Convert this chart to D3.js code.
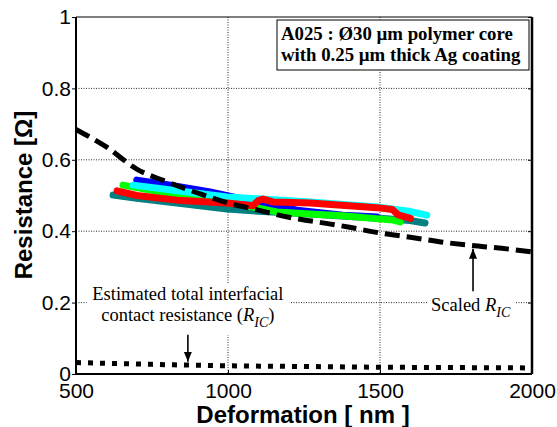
<!DOCTYPE html>
<html>
<head>
<meta charset="utf-8">
<script src="https://cdn.jsdelivr.net/npm/d3@7"></script>
<style>
  body { margin: 0; background: #fff; }
  svg { display: block; }
</style>
</head>
<body>
<div id="chart"></div>
<script>
// measured curves, deformation [nm] vs resistance [ohm]
var tealX  = [622, 700, 832, 997, 1100, 1270, 1400, 1500, 1599, 1648];
var tealY  = [0.501, 0.492, 0.479, 0.462, 0.456, 0.448, 0.441, 0.436, 0.430, 0.423];
var blueX  = [700, 800, 941, 1050, 1227, 1378, 1490];
var blueY  = [0.543, 0.530, 0.510, 0.490, 0.459, 0.445, 0.440];
var greenX = [655, 700, 832, 997, 1161, 1270, 1378, 1543, 1566];
var greenY = [0.529, 0.522, 0.501, 0.482, 0.454, 0.448, 0.443, 0.431, 0.426];
var cyanX  = [688, 800, 997, 1150, 1270, 1490, 1600, 1654];
var cyanY  = [0.529, 0.517, 0.496, 0.488, 0.482, 0.468, 0.455, 0.445];
var redX   = [635, 700, 832, 997, 1082, 1100, 1115, 1148, 1270, 1490, 1540, 1560, 1600];
var redY   = [0.513, 0.500, 0.487, 0.479, 0.471, 0.486, 0.490, 0.482, 0.479, 0.466, 0.461, 0.446, 0.436];

// scaled R_IC (dashed) and estimated R_IC (dotted)
var modelX    = [500, 600, 700, 800, 900, 1000, 1100, 1200, 1300, 1400, 1500, 1600, 1700, 1800, 1900, 2000];
var scaledRic = [0.685, 0.636, 0.574, 0.538, 0.507, 0.479, 0.459, 0.439, 0.425, 0.411, 0.395, 0.383, 0.370, 0.360, 0.352, 0.342];
var ricX      = [500, 750, 1000, 1250, 1500, 1750, 2000];
var ricY      = [0.032, 0.027, 0.023, 0.021, 0.019, 0.018, 0.017];

var xTicks = [500, 1000, 1500, 2000];
var yTicks = [0, 0.2, 0.4, 0.6, 0.8, 1];

var series = [
    {x: tealX,  y: tealY,  color: "#008080"},
    {x: blueX,  y: blueY,  color: "#0000ff"},
    {x: greenX, y: greenY, color: "#00ff00"},
    {x: cyanX,  y: cyanY,  color: "#00ffff"},
    {x: redX,   y: redY,   color: "#ff0000"}
];

var margin = {top: 17, right: 25, bottom: 53, left: 76};
var width = 557 - margin.left - margin.right;
var height = 427 - margin.top - margin.bottom;

var svg = d3.select("#chart")
    .append("svg")
    .attr("width", 557)
    .attr("height", 427)
    .append("g")
    .attr("transform", "translate(" + margin.left + "," + margin.top + ")");

var xScale = d3.scaleLinear().domain([500, 2000]).range([0, width]);
var yScale = d3.scaleLinear().domain([0, 1]).range([height, 0]);

// grid
svg.append("g")
    .selectAll("line.gx")
    .data(xTicks.slice(1, -1))
    .enter().append("line")
    .attr("x1", function(d) { return xScale(d); })
    .attr("x2", function(d) { return xScale(d); })
    .attr("y1", 0).attr("y2", height)
    .attr("stroke", "#111").attr("stroke-width", 0.9)
    .attr("stroke-dasharray", "1,1.5");

svg.append("g")
    .selectAll("line.gy")
    .data(yTicks.slice(1, -1))
    .enter().append("line")
    .attr("y1", function(d) { return yScale(d); })
    .attr("y2", function(d) { return yScale(d); })
    .attr("x1", 0).attr("x2", width)
    .attr("stroke", "#111").attr("stroke-width", 0.9)
    .attr("stroke-dasharray", "1,1.5");

// measured data
var line = d3.line()
    .x(function(d) { return xScale(d[0]); })
    .y(function(d) { return yScale(d[1]); })
    .curve(d3.curveLinear);

series.forEach(function(s) {
    svg.append("path")
        .datum(d3.zip(s.x, s.y))
        .attr("fill", "none")
        .attr("stroke", s.color)
        .attr("stroke-width", 7)
        .attr("stroke-linecap", "round")
        .attr("stroke-linejoin", "round")
        .attr("d", line);
});

var smooth = d3.line()
    .x(function(d) { return xScale(d[0]); })
    .y(function(d) { return yScale(d[1]); })
    .curve(d3.curveMonotoneX);

svg.append("path")
    .datum(d3.zip(modelX, scaledRic))
    .attr("fill", "none")
    .attr("stroke", "#000")
    .attr("stroke-width", 5)
    .attr("stroke-dasharray", "15,7")
    .attr("d", smooth);

svg.append("path")
    .datum(d3.zip(ricX, ricY))
    .attr("fill", "none")
    .attr("stroke", "#000")
    .attr("stroke-width", 5)
    .attr("stroke-dasharray", "5,7")
    .attr("d", smooth);

// annotations with white backgrounds
function ric(x, y, anchor, parts) {
    var txt = svg.append("text")
        .attr("x", x).attr("y", y)
        .attr("text-anchor", anchor)
        .style("font-family", "'Liberation Serif', 'Times New Roman', serif")
        .style("font-size", "18.5px");
    txt.append("tspan").text(parts[0]);
    txt.append("tspan").style("font-style", "italic").text("R");
    txt.append("tspan").style("font-style", "italic").style("font-size", "14px")
        .attr("dy", 6).text("IC");
    if (parts[1]) txt.append("tspan").attr("dy", -6).text(parts[1]);
}

svg.append("rect")
    .attr("x", xScale(535)).attr("y", yScale(0.255))
    .attr("width", 203).attr("height", 52)
    .attr("fill", "#fff");
svg.append("text")
    .attr("x", xScale(868)).attr("y", yScale(0.206))
    .attr("text-anchor", "middle")
    .style("font-family", "'Liberation Serif', 'Times New Roman', serif")
    .style("font-size", "18.5px")
    .text("Estimated total interfacial");
ric(xScale(868), yScale(0.149), "middle", ["contact resistance (", ")"]);

svg.append("rect")
    .attr("x", xScale(1655)).attr("y", yScale(0.23))
    .attr("width", 88).attr("height", 30)
    .attr("fill", "#fff");
ric(xScale(1668), yScale(0.177), "start", ["Scaled ", ""]);

svg.append("defs").append("marker")
    .attr("id", "head")
    .attr("viewBox", "0 0 10 10")
    .attr("refX", 10).attr("refY", 5)
    .attr("markerWidth", 10).attr("markerHeight", 10)
    .attr("markerUnits", "userSpaceOnUse")
    .attr("orient", "auto")
    .append("path")
    .attr("d", "M0,1 L10,5 L0,9 Z")
    .attr("fill", "#000");

[[868, 0.11, 0.034], [1806, 0.232, 0.351]].forEach(function(a) {
    svg.append("line")
        .attr("x1", xScale(a[0])).attr("x2", xScale(a[0]))
        .attr("y1", yScale(a[1])).attr("y2", yScale(a[2]))
        .attr("stroke", "#000").attr("stroke-width", 1.6)
        .attr("marker-end", "url(#head)");
});

// legend box
svg.append("rect")
    .attr("x", 201).attr("y", 3)
    .attr("width", 252).attr("height", 50)
    .attr("fill", "#fff").attr("stroke", "#000").attr("stroke-width", 1);
svg.append("text")
    .attr("x", 205).attr("y", 23)
    .style("font-family", "'Liberation Serif', 'Times New Roman', serif")
    .style("font-size", "18.8px").style("font-weight", "bold")
    .text("A025 : Ø30 µm polymer core");
svg.append("text")
    .attr("x", 205).attr("y", 44)
    .style("font-family", "'Liberation Serif', 'Times New Roman', serif")
    .style("font-size", "18.8px").style("font-weight", "bold")
    .text("with 0.25 µm thick Ag coating");

// axes
svg.append("g")
    .attr("class", "x-axis")
    .attr("transform", "translate(0," + height + ")")
    .call(d3.axisBottom(xScale).tickValues(xTicks).tickSize(-4).tickPadding(9).tickFormat(d3.format("d")));

svg.append("g")
    .attr("class", "y-axis")
    .call(d3.axisLeft(yScale).tickValues(yTicks).tickSize(4).tickPadding(1).tickFormat(function(d) { return d === 0 || d === 1 ? d : d3.format(".1f")(d); }));

svg.append("g")
    .attr("transform", "translate(" + width + ",0)")
    .call(d3.axisLeft(yScale).tickValues(yTicks).tickSize(4).tickFormat(""));

svg.selectAll(".x-axis text, .y-axis text")
    .style("font-family", "'Liberation Sans', Arial, sans-serif")
    .style("font-size", "21px")
    .attr("fill", "#000");
svg.selectAll(".domain").attr("stroke", "none");
svg.selectAll(".tick line").attr("stroke", "#000");

// frame
svg.append("line").attr("x1", 0).attr("x2", width).attr("y1", 0).attr("y2", 0)
    .attr("stroke", "#000").attr("stroke-width", 1.2);
svg.append("line").attr("x1", 0).attr("x2", 0).attr("y1", 0).attr("y2", height)
    .attr("stroke", "#000").attr("stroke-width", 2);
svg.append("line").attr("x1", 0).attr("x2", width).attr("y1", height).attr("y2", height)
    .attr("stroke", "#000").attr("stroke-width", 2);
svg.append("line").attr("x1", width).attr("x2", width).attr("y1", 0).attr("y2", height)
    .attr("stroke", "#000").attr("stroke-width", 2.5);

// axis titles
svg.append("text")
    .attr("x", width / 2 - 1)
    .attr("y", height + 49)
    .style("text-anchor", "middle")
    .style("font-family", "'Liberation Sans', Arial, sans-serif")
    .style("font-size", "24px").style("font-weight", "bold")
    .text("Deformation [ nm ]");

svg.append("text")
    .attr("transform", "rotate(-90)")
    .attr("x", 0 - (195 - margin.top))
    .attr("y", 32 - margin.left)
    .style("text-anchor", "middle")
    .style("font-family", "'Liberation Sans', Arial, sans-serif")
    .style("font-size", "24px").style("font-weight", "bold")
    .text("Resistance [Ω]");
</script>
</body>
</html>
